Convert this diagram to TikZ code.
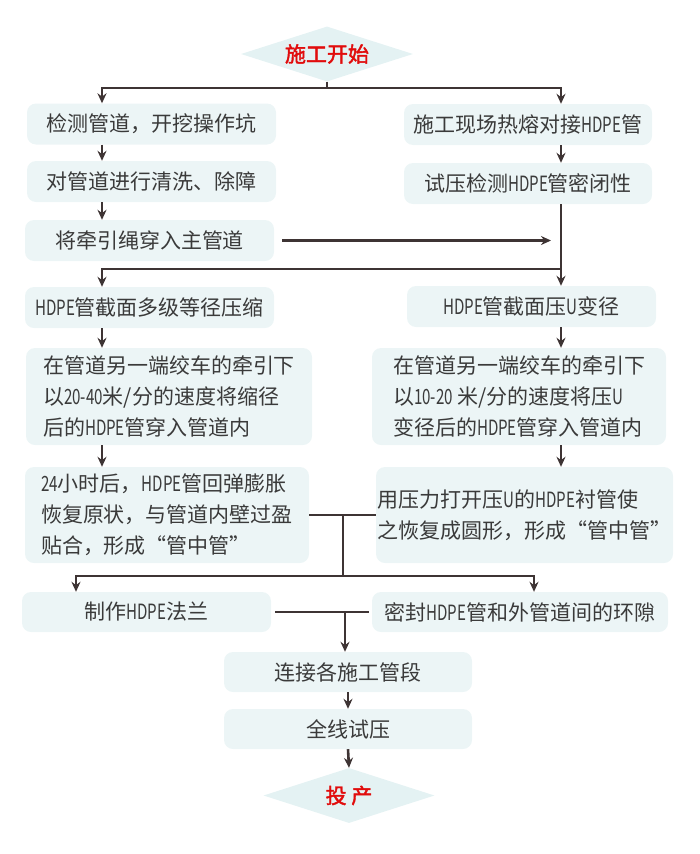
\documentclass[tikz,border=0pt]{standalone}
\usepackage{fontspec}
\setmainfont{Noto Sans CJK SC}
\newfontfamily\latn[FakeStretch=0.72]{Noto Sans CJK SC}
\newfontfamily\titlefont[FakeBold=2]{Noto Sans CJK SC}
\usepackage{xcolor}
\usepackage{tikz}
\usetikzlibrary{shapes, arrows.meta, positioning}
\definecolor{linec}{RGB}{62,52,52}
\definecolor{boxf}{RGB}{236,245,246}
\definecolor{diaf}{RGB}{228,242,243}
\definecolor{txt}{RGB}{58,58,58}
\definecolor{titred}{RGB}{225,12,12}
\newcommand\lat[1]{{\latn #1}}

\begin{document}
\begin{tikzpicture}[x=1pt, y=-1pt,
    box/.style={rectangle, rounded corners=9pt, fill=boxf, text=txt, font=\fontsize{21}{31}\selectfont, align=left, inner sep=0pt, minimum height=41pt},
    flag/.style={diamond, fill=diaf, text=titred, font=\titlefont\fontsize{21}{24}\selectfont, inner sep=0pt, aspect=3.1, minimum width=172pt, minimum height=55pt},
    link/.style={draw=linec, line width=2.6pt},
    arr/.style={link, -{Stealth[length=10pt, width=9pt]}}]
                \useasboundingbox (0,0) rectangle (700,854);
                % start and first row
                \node[flag] (start) at (327,54) {施工开始};
                \node[box, minimum width=249pt] (dig) at (151.5,124) {检测管道，开挖操作坑};
                \node[box, minimum width=248pt] (fuse) at (528,124.5) {施工现场热熔对接\lat{HDPE}管};
                \node[box, minimum width=249pt] (clean) at (151.5,181.5) {对管道进行清洗、除障};
                \node[box, minimum width=248pt] (test) at (528,183.5) {试压检测\lat{HDPE}管密闭性};
                \node[box, minimum width=249pt] (rope) at (149.5,240.5) {将牵引绳穿入主管道};
                % two methods
                \node[box, minimum width=249pt] (shrink) at (149.5,307.5) {\lat{HDPE}管截面多级等径压缩};
                \node[box, minimum width=249pt] (ufold) at (531.5,306.5) {\lat{HDPE}管截面压\lat{U}变径};
                \node[box, minimum width=286pt, minimum height=97pt] (pullA) at (169,396.5) {在管道另一端绞车的牵引下\\以\lat{20-40}米/分的速度将缩径\\后的\lat{HDPE}管穿入管道内};
                \node[box, minimum width=294pt, minimum height=97pt] (pullB) at (519,396.5) {在管道另一端绞车的牵引下\\以\lat{10-20} 米/分的速度将压\lat{U}\\变径后的\lat{HDPE}管穿入管道内};
                \node[box, minimum width=284pt, minimum height=96pt] (recoverA) at (167,515) {\lat{24}小时后，\lat{HDPE}管回弹膨胀\\恢复原状，与管道内壁过盈\\贴合，形成“管中管”};
                \node[box, minimum width=297pt, minimum height=96pt] (recoverB) at (524.5,515) {用压力打开压\lat{U}的\lat{HDPE}衬管使\\之恢复成圆形，形成“管中管”};
                % finishing
                \node[box, minimum width=249pt, minimum height=40pt] (flange) at (146.5,612) {制作\lat{HDPE}法兰};
                \node[box, minimum width=296pt, minimum height=40pt] (seal) at (520,612) {密封\lat{HDPE}管和外管道间的环隙};
                \node[box, minimum width=248pt, minimum height=40pt] (joint) at (348,672) {连接各施工管段};
                \node[box, minimum width=248pt, minimum height=40pt] (press) at (348,729) {全线试压};
                \node[flag, minimum width=171pt] (finish) at (349,795.5) {投\ 产};

                % columns and junctions
                \coordinate (lcol) at (102,0);
                \coordinate (rcol) at (561,0);
                \coordinate (colF) at (76,0);
                \coordinate (colS) at (534,0);
                \coordinate (busA) at (327,88);
                \coordinate (busB) at (561,269);
                \coordinate (joinA) at (343,515);
                \coordinate (busC) at (343,576);
                \coordinate (joinB) at (345,612);

                \draw[link] (start.south) -- (busA);
                \draw[arr] (busA) -| (dig.north -| lcol);
                \draw[arr] (busA) -| (fuse.north -| rcol);
                \draw[arr] (dig.south -| lcol) -- (clean.north -| lcol);
                \draw[arr] (clean.south -| lcol) -- (rope.north -| lcol);
                \draw[arr] (fuse.south -| rcol) -- (test.north -| rcol);
                \draw[arr, shorten <=8pt, shorten >=10pt] (rope.east) -- (rope.east -| rcol);
                \draw[arr] (test.south -| rcol) -- (ufold.north -| rcol);
                \draw[arr] (busB) -| (shrink.north -| lcol);
                \draw[arr] (shrink.south -| lcol) -- (pullA.north -| lcol);
                \draw[arr] (ufold.south -| rcol) -- (pullB.north -| rcol);
                \draw[arr] (pullA.south -| lcol) -- (recoverA.north -| lcol);
                \draw[arr] (pullB.south -| rcol) -- (recoverB.north -| rcol);
                \draw[link] (recoverA.east) -- (recoverB.west);
                \draw[link] (joinA) -- (busC);
                \draw[arr] (busC) -| (flange.north -| colF);
                \draw[arr] (busC) -| (seal.north -| colS);
                \draw[link, shorten <=4pt, shorten >=3pt] (flange.east) -- (seal.west);
                \draw[arr] (joinB) -- (joint.north -| joinB);
                \draw[arr] (joint.south) -- (press.north);
                \draw[arr] (press.south) -- (finish.north);
            \end{tikzpicture}
\end{document}
